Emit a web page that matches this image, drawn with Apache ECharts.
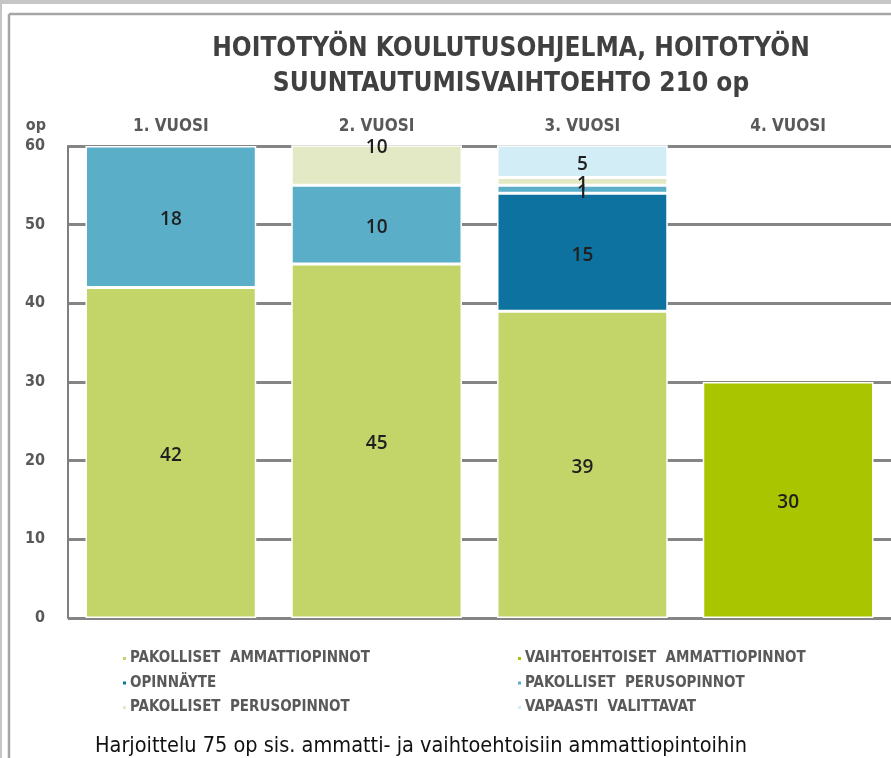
<!DOCTYPE html>
<html>
<head>
<meta charset="utf-8">
<script src="https://cdn.jsdelivr.net/npm/echarts@6/dist/echarts.min.js"></script>
<style>
  html, body { margin: 0; padding: 0; background: #fff; }
  #chart { width: 891px; height: 758px; }
</style>
</head>
<body>
<div id="chart"></div>
<script>
// vuodet
const categories = ['1. VUOSI', '2. VUOSI', '3. VUOSI', '4. VUOSI'];
const yTicks = [0, 10, 20, 30, 40, 50, 60];

// opintopisteet per vuosi (alhaalta ylös)
const pakollisetAmmatti = [42, 45, 39, '-'];
const vaihtoehtoisetAmmatti = ['-', '-', '-', 30];
const opinnayte = ['-', '-', 15, '-'];
const perusopinnotSin = [18, 10, 1, '-'];
const perusopinnotVaalea = ['-', 10, 1, '-'];
const vapaastiValittavat = ['-', '-', 5, '-'];

const FONT = '"Liberation Sans Narrow", "DejaVu Sans Condensed", "Liberation Sans", sans-serif';
// sama nimi legendassa kahdesti -> erotetaan näkymättömällä merkillä
const PP_NAME = 'PAKOLLISET  PERUSOPINNOT';

const chart = echarts.init(document.getElementById('chart'));

// yli 60:n menevän palkin otsikko nostetaan ylemmäs kuten Excelissä
const liftClipped = (data, liftIdx) =>
  data.map((v, i) => (i === liftIdx ? { value: v, label: { offset: [0, -18] } } : v));

const bar = (name, data, color) => ({
  name: name,
  type: 'bar',
  stack: 'op',
  data: data,
  barWidth: '83%',
  itemStyle: { color: color, borderColor: '#fff', borderWidth: 1.5 },
  label: {
    show: true,
    position: 'inside',
    color: '#1f1f1f',
    fontSize: 19,
    fontWeight: 600,
    fontFamily: '"Open Sans", sans-serif',
    offset: [0, 3],
    formatter: p => p.value
  },
  emphasis: { disabled: true }
});

const legendText = { fontFamily: FONT, fontSize: 15, fontWeight: 'bold', color: '#595959', lineHeight: 14, padding: [0, 0, 0, -2] };

chart.setOption({
  backgroundColor: '#fff',
  animation: false,
  title: [
    {
      text: 'HOITOTYÖN KOULUTUSOHJELMA, HOITOTYÖN\nSUUNTAUTUMISVAIHTOEHTO 210 op',
      left: 506,
      top: 27,
      textAlign: 'center',
      textStyle: { fontFamily: FONT, fontSize: 26, fontWeight: 'bold', color: '#404040', lineHeight: 35 }
    },
    {
      text: 'Harjoittelu 75 op sis. ammatti- ja vaihtoehtoisiin ammattiopintoihin',
      left: 90,
      top: 730,
      textStyle: { fontFamily: FONT, fontSize: 21.5, fontWeight: 'normal', color: '#111' }
    }
  ],
  graphic: [
    { type: 'rect', shape: { x: 0, y: 0, width: 891, height: 4 }, style: { fill: '#c6c6c6' }, silent: true },
    { type: 'rect', shape: { x: 0, y: 0, width: 2, height: 758 }, style: { fill: '#c6c6c6' }, silent: true },
    { type: 'line', shape: { x1: 9, y1: 14, x2: 891, y2: 14 }, style: { stroke: '#a6a6a6', lineWidth: 2.5 }, silent: true },
    { type: 'line', shape: { x1: 9, y1: 14, x2: 9, y2: 758 }, style: { stroke: '#a6a6a6', lineWidth: 2.5 }, silent: true }
  ],
  legend: [
    {
      orient: 'vertical',
      left: 116,
      top: 646,
      itemGap: 9.5,
      itemWidth: 5,
      itemHeight: 5,
      icon: 'rect',
      selectedMode: false,
      textStyle: legendText,
      data: ['PAKOLLISET  AMMATTIOPINNOT', 'OPINNÄYTE', PP_NAME + '\u200b']
    },
    {
      orient: 'vertical',
      left: 511,
      top: 646,
      itemGap: 9.5,
      itemWidth: 5,
      itemHeight: 5,
      icon: 'rect',
      selectedMode: false,
      textStyle: legendText,
      data: ['VAIHTOEHTOISET  AMMATTIOPINNOT', PP_NAME, 'VAPAASTI  VALITTAVAT']
    }
  ],
  grid: { left: 68, right: 0, top: 146, bottom: 140 },
  xAxis: {
    type: 'category',
    position: 'top',
    data: categories,
    axisLine: { show: false },
    axisTick: { show: false },
    axisLabel: { margin: 11, fontFamily: FONT, fontSize: 17, fontWeight: 'bold', color: '#595959' }
  },
  yAxis: {
    type: 'value',
    min: yTicks[0],
    max: yTicks[yTicks.length - 1],
    interval: 10,
    name: 'op',
    nameLocation: 'end',
    nameGap: 12,
    nameTextStyle: { fontFamily: FONT, fontSize: 16, fontWeight: 'bold', color: '#595959', align: 'right', padding: [0, 22, 0, 0] },
    axisLine: { show: true, lineStyle: { color: '#7f7f7f', width: 2 } },
    axisTick: { show: false },
    axisLabel: { margin: 23, fontFamily: FONT, fontSize: 16, fontWeight: 'bold', color: '#595959' },
    splitLine: { lineStyle: { color: '#858585', width: 3 } }
  },
  series: [
    bar('PAKOLLISET  AMMATTIOPINNOT', pakollisetAmmatti, '#c3d469'),
    bar('VAIHTOEHTOISET  AMMATTIOPINNOT', vaihtoehtoisetAmmatti, '#a9c500'),
    bar('OPINNÄYTE', opinnayte, '#0d72a0'),
    bar(PP_NAME, perusopinnotSin, '#5aaec8'),
    bar(PP_NAME + '\u200b', liftClipped(perusopinnotVaalea, 1), '#e3e9c4'),
    bar('VAPAASTI  VALITTAVAT', vapaastiValittavat, '#d3edf6')
  ]
});
</script>
</body>
</html>
